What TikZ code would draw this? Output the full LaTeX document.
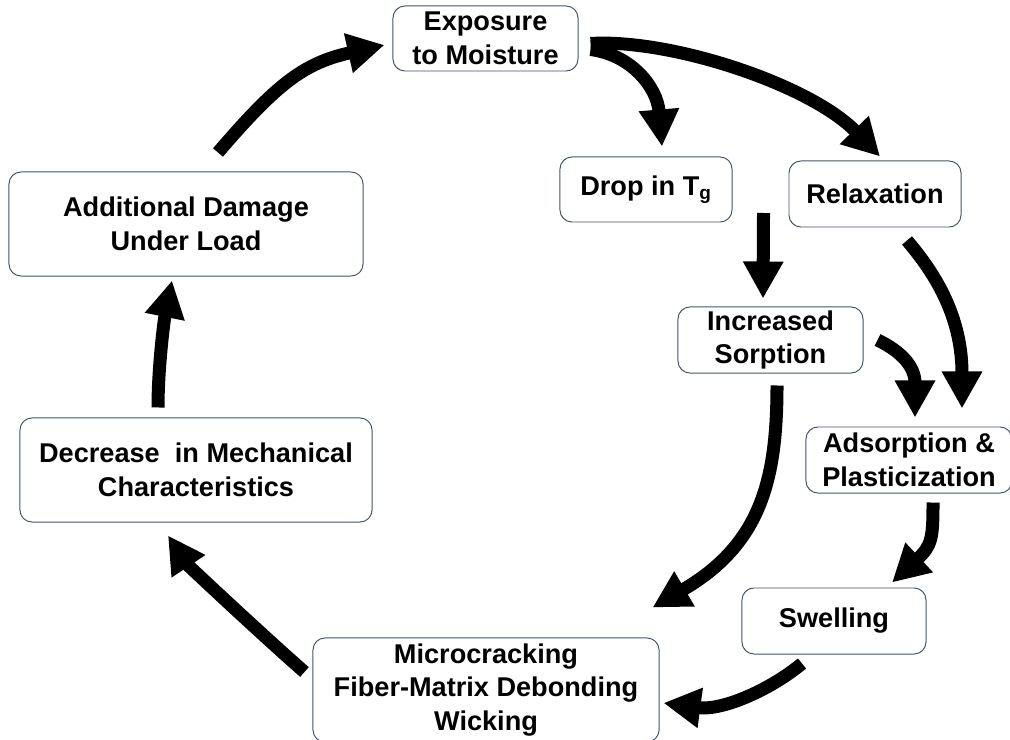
\documentclass[tikz,border=0pt]{standalone}
\usepackage{fontspec}
\setmainfont{Liberation Sans}
\usetikzlibrary{arrows.meta}
\definecolor{boxline}{RGB}{68,84,106}

\begin{document}
\begin{tikzpicture}[x=0.025cm,y=-0.025cm,
	box/.style={draw=boxline,line width=0.7pt,rounded corners=0.3cm,fill=white,align=center,inner sep=0pt,font=\fontsize{19.3}{24}\selectfont\bfseries},
	cyc/.style={line width=0.325cm,-{Triangle[length=0.925cm,width=0.95cm]}}]
	\useasboundingbox (0,0) rectangle (1010,740);
	% boxes
	\node[box,minimum width=4.625cm,minimum height=1.625cm] (exp) at (485.5,38.5) {Exposure\\to Moisture};
	\node[box,minimum width=4.3cm,minimum height=1.625cm] (drop) at (646,189.5) {Drop in T\textsubscript{g}};
	\node[box,minimum width=4.3cm,minimum height=1.65cm] (relax) at (875,194) {Relaxation};
	\node[box,minimum width=4.625cm,minimum height=1.65cm] (incr) at (770.5,340) {Increased\\Sorption};
	\node[box,minimum width=5.15cm,minimum height=1.65cm] (adsorb) at (909,460) {Adsorption \&\\Plasticization};
	\node[box,minimum width=4.6cm,minimum height=1.65cm] (swell) at (834,621) {Swelling};
	\node[box,minimum width=8.65cm,minimum height=2.6cm] (micro) at (486,690) {Microcracking\\Fiber-Matrix Debonding\\Wicking};
	\node[box,minimum width=8.8cm,minimum height=2.6cm] (dec) at (196,470) {Decrease~ in Mechanical\\Characteristics};
	\node[box,minimum width=8.85cm,minimum height=2.6cm] (add) at (186,224) {Additional Damage\\Under Load};
	% arrows
	\draw[cyc] ([shift={(32,-19)}]add.north) .. controls +(60,-70) and +(-80,18) .. ([shift={(-8,6.5)}]exp.west);
	\draw[cyc] ([shift={(12,11)}]exp.east) .. controls +(40,5) and +(-5,-60) .. ([shift={(16,-10)}]drop.north);
	\draw[cyc] ([shift={(12,5)}]exp.east) .. controls +(80,-5) and +(-70,-72) .. ([shift={(5,-4)}]relax.north);
	\draw[cyc] ([shift={(31,23.5)}]drop.east) -- ([shift={(-7.5,-8)}]incr.north);
	\draw[cyc] ([shift={(32,13)}]relax.south) .. controls +(30,35) and +(0,-90) .. ([shift={(53,-18)}]adsorb.north);
	\draw[cyc] ([shift={(14,0)}]incr.east) .. controls +(25,12) and +(0,-50) .. ([shift={(6,-9)}]adsorb.north);
	\draw[cyc] ([shift={(6.5,12)}]incr.south) .. controls +(0,95) and +(108,-63) .. ([shift={(-7,-30)}]micro.north east);
	\draw[cyc] ([shift={(24,9)}]adsorb.south) .. controls +(0,35) and +(40,-37) .. ([shift={(58,-5)}]swell.north);
	\draw[cyc] ([shift={(-32,9)}]swell.south) .. controls +(-30,25) and +(60,8) .. ([shift={(4,13)}]micro.east);
	\draw[cyc] ([shift={(-8,-18)}]micro.west) .. controls +(-40,-35) and +(20,30) .. ([shift={(-28,13)}]dec.south);
	\draw[cyc] ([shift={(-38,-10)}]dec.north) .. controls +(0,-40) and +(-8,40) .. ([shift={(-14,4)}]add.south);
\end{tikzpicture}
\end{document}
